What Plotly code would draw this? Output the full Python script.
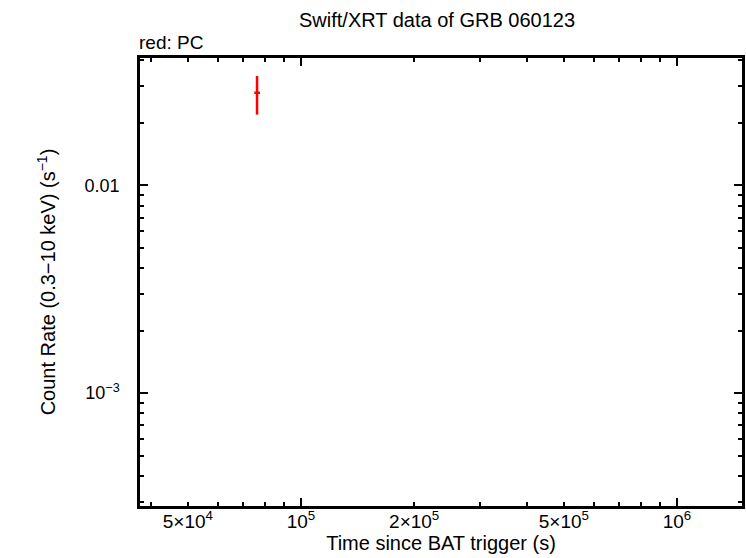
import plotly.graph_objects as go

# ---- data ----
pc_time = [76400.0]
pc_time_err_minus = [1300.0]
pc_time_err_plus = [1400.0]
pc_rate = [0.0279]
pc_rate_err_minus = [0.0060]
pc_rate_err_plus = [0.0057]

x_label_vals = [5e4, 1e5, 2e5, 5e5, 1e6]
x_label_text = ["5×10<sup>4</sup>", "10<sup>5</sup>", "2×10<sup>5</sup>", "5×10<sup>5</sup>", "10<sup>6</sup>"]
x_major = [1e5, 1e6]
x_minor = [4e4, 5e4, 6e4, 7e4, 8e4, 9e4, 2e5, 3e5, 4e5, 5e5, 6e5, 7e5, 8e5, 9e5]

y_label_vals = [1e-3, 1e-2]
y_label_text = ["10<sup>−3</sup>", "0.01"]
y_minor = [3e-4, 4e-4, 5e-4, 6e-4, 7e-4, 8e-4, 9e-4,
           2e-3, 3e-3, 4e-3, 5e-3, 6e-3, 7e-3, 8e-3, 9e-3,
           2e-2, 3e-2, 4e-2]

x_range = [4.5718, 6.1729]
y_range = [-3.543, -1.387]

FONT = "Liberation Sans, Arial, sans-serif"

fig = go.Figure()
fig.add_trace(go.Scatter(
    x=pc_time, y=pc_rate, mode="markers",
    marker=dict(color="#ff0000", size=2),
    error_x=dict(type="data", symmetric=False, array=pc_time_err_plus,
                 arrayminus=pc_time_err_minus, color="#ff0000", thickness=2.5, width=0),
    error_y=dict(type="data", symmetric=False, array=pc_rate_err_plus,
                 arrayminus=pc_rate_err_minus, color="#ff0000", thickness=2.5, width=0),
    showlegend=False, hoverinfo="skip",
))
# invisible copy on the label axis so that it gets drawn
fig.add_trace(go.Scatter(
    x=pc_time, y=pc_rate, xaxis="x2", mode="markers",
    marker=dict(opacity=0, size=1), showlegend=False, hoverinfo="skip",
))

fig.update_layout(
    width=746, height=558,
    margin=dict(l=140, r=4, t=58, b=52, autoexpand=False),
    paper_bgcolor="white", plot_bgcolor="white",
    font=dict(family=FONT, size=18, color="black"),
    xaxis=dict(
        type="log", range=x_range, automargin=False,
        showline=True, linecolor="black", linewidth=2.5, mirror="ticks",
        showgrid=False, zeroline=False,
        tickmode="array", tickvals=x_major, ticks="inside", ticklen=8,
        tickwidth=2, tickcolor="black", showticklabels=False,
        minor=dict(tickmode="array", tickvals=x_minor, ticks="inside",
                   ticklen=4, tickwidth=2, tickcolor="black", showgrid=False),
    ),
    xaxis2=dict(
        type="log", range=x_range, overlaying="x", side="bottom", anchor="y",
        automargin=False,
        showline=False, showgrid=False, zeroline=False,
        tickmode="array", tickvals=x_label_vals, ticktext=x_label_text,
        ticks="", tickfont=dict(size=19, family=FONT), ticklabelstandoff=2,
        title=dict(text="Time since BAT trigger (s)", font=dict(size=20, family=FONT), standoff=2),
    ),
    yaxis=dict(
        type="log", range=y_range, automargin=False,
        showline=True, linecolor="black", linewidth=2.5, mirror="ticks",
        showgrid=False, zeroline=False,
        tickmode="array", tickvals=y_label_vals, ticktext=y_label_text,
        ticks="inside", ticklen=8, tickwidth=2, tickcolor="black",
        tickfont=dict(size=18, family=FONT), ticklabelstandoff=14,
        minor=dict(tickmode="array", tickvals=y_minor, ticks="inside",
                   ticklen=4, tickwidth=2, tickcolor="black", showgrid=False),
        title=dict(text="Count Rate (0.3−10 keV) (s<sup>−1</sup>)", font=dict(size=20, family=FONT), standoff=24),
    ),
    annotations=[
        dict(text="Swift/XRT data of GRB 060123", xref="paper", yref="paper",
             x=0.5, y=1.0, yshift=38, xshift=-4, showarrow=False, xanchor="center", yanchor="middle",
             font=dict(size=20, family=FONT)),
        dict(text="red: PC", xref="paper", yref="paper",
             x=0.0, y=1.0, yshift=16, xshift=-3, showarrow=False, xanchor="left", yanchor="middle",
             font=dict(size=19, family=FONT)),
    ],
)

fig.write_html("out.html", config={"displayModeBar": False},
               post_script="document.body.style.margin='0';document.body.style.overflow='hidden';")
